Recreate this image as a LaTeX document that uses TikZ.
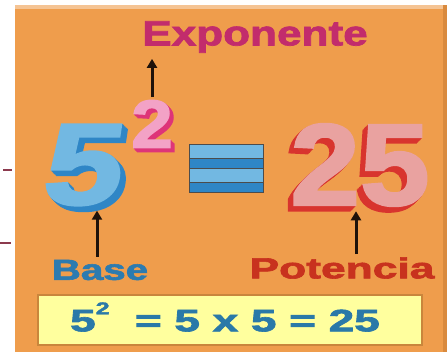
\documentclass[tikz,border=0pt]{standalone}
\usepackage{fontspec}
\setmainfont{Liberation Sans}
\newfontfamily\heavyfont[FakeBold=2]{Liberation Sans Bold}
\usetikzlibrary{arrows.meta}
\definecolor{panel}{HTML}{EF9D4C}
\definecolor{paneledge}{HTML}{D98A3E}
\definecolor{expotxt}{HTML}{C22C6C}
\definecolor{basetxt}{HTML}{2C7BB0}
\definecolor{pottxt}{HTML}{C8321E}
\definecolor{fivetop}{HTML}{72B8E2}
\definecolor{fiveside}{HTML}{2F86C6}
\definecolor{twotop}{HTML}{F3A2C6}
\definecolor{twoside}{HTML}{DE3478}
\definecolor{tftop}{HTML}{E9A2A0}
\definecolor{tfside}{HTML}{D8342E}
\definecolor{boxyellow}{HTML}{FFFF9E}
\definecolor{boxedge}{HTML}{C9863C}
\definecolor{formtxt}{HTML}{2A79A8}
\definecolor{arrowdark}{HTML}{1E120A}
\definecolor{dashred}{HTML}{8C3A4E}

\begin{document}
\begin{tikzpicture}[x=1pt,y=-1pt,
  label/.style={inner sep=0pt,font=\fontsize{35}{35}\selectfont\heavyfont},
  bignum/.style={inner sep=0pt,font=\fontsize{116}{116}\selectfont\heavyfont},
  uparrow/.style={line width=3pt,draw=arrowdark,-{Triangle[width=10pt,length=9pt]}}]
\useasboundingbox (0,0) rectangle (447,352);
\fill[white] (0,0) rectangle (447,352);
\fill[panel] (15,5) rectangle (447,352);
\fill[panel!60!white] (15,5) rectangle (447,9);
\fill[paneledge] (443,5) rectangle (447,352);
\draw[dashred,line width=1.5pt] (3,170) -- (12,170);
\draw[dashred,line width=1.5pt] (0,243) -- (11,243);
% labels
\node[label,text=expotxt,xscale=1.26] (expo) at (255,37) {Exponente};
\node[label,font=\fontsize{29}{29}\selectfont\heavyfont,text=basetxt,xscale=1.39] (base) at (100,270) {Base};
\node[label,font=\fontsize{29}{29}\selectfont\heavyfont,text=pottxt,xscale=1.53] (pot) at (342,268) {Potencia};
% the big 5
\foreach \d in {1,...,7} {
  \node[bignum,text=fiveside,xslant=0.15,xscale=1.22] (five-\d) at (85+\d*0.8,165+\d*0.8) {5};
}
\node[bignum,text=fivetop,xslant=0.15,xscale=1.22] (five) at (85,165) {5};
% the exponent 2
\foreach \d in {1,...,5} {
  \node[bignum,font=\fontsize{68}{68}\selectfont\heavyfont,text=twoside,xscale=1.1] (two-\d) at (152+\d*0.8,124+\d*0.8) {2};
}
\node[bignum,font=\fontsize{68}{68}\selectfont\heavyfont,text=twotop,xscale=1.1] (two) at (152,124) {2};
% equals sign
\filldraw[fivetop,draw=black!70,thin] (189,144) rectangle (263,158);
\filldraw[fiveside,draw=black!70,thin] (189,158) rectangle (263,168);
\filldraw[fivetop,draw=black!70,thin] (189,168) rectangle (263,182);
\filldraw[fiveside,draw=black!70,thin] (189,182) rectangle (263,192);
% the result 25
\foreach \d in {1,...,7} {
  \node[bignum,text=tfside,xscale=1.08] (tf-\d) at (360-\d*0.8,165+\d*0.8) {25};
}
\node[bignum,text=tftop,xscale=1.08] (tf) at (360,165) {25};
% arrows
\draw[uparrow,shorten <=3pt,shorten >=6pt] (two.north) -- (two.north |- expo.south);
\draw[uparrow,shorten <=3pt,shorten >=5pt] (base.north -| 97,0) -- (97,0 |- five.south);
\draw[uparrow,shorten <=3pt,shorten >=5pt] (pot.north -| 356,0) -- (356,0 |- tf.south);
% formula
\node[draw=boxedge,fill=boxyellow,line width=1.5pt,minimum width=384pt,minimum height=50pt,inner sep=0pt] (box) at (230,320) {};
\node[label,font=\fontsize{31}{31}\selectfont\heavyfont,text=formtxt,xscale=1.48] (formula) at (225,317) {5\raisebox{0.55em}{\fontsize{17}{17}\selectfont 2}\hspace{0.55em}= 5 x 5 = 25};
\end{tikzpicture}
\end{document}
